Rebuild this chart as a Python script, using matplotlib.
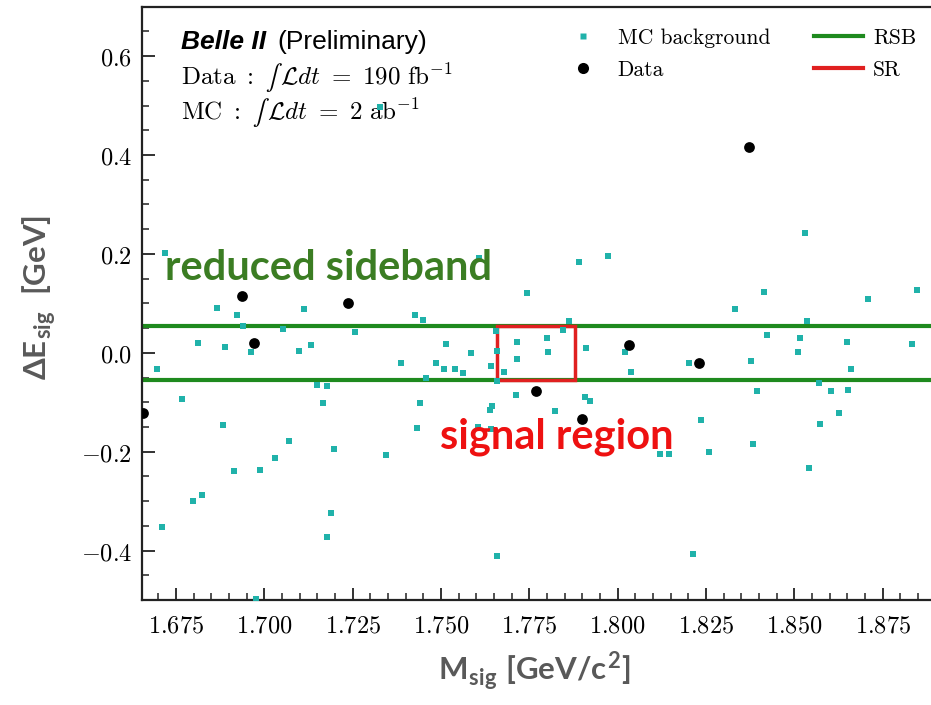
import numpy as np
import matplotlib
matplotlib.use("Agg")
import matplotlib.pyplot as plt
from matplotlib.patches import Rectangle
from matplotlib.lines import Line2D

plt.rcParams['mathtext.fontset'] = 'cm'
plt.rcParams['axes.formatter.use_mathtext'] = True

# MC background events (M_sig [GeV/c^2], dE_sig [GeV])
mc_m = [1.7327, 1.6719, 1.7609, 1.6865, 1.6924, 1.7112, 1.7426, 1.7450, 1.7744, 1.7891,
        1.7972, 1.8530, 1.8414, 1.8331, 1.8708, 1.8848, 1.7862, 1.8535, 1.6939, 1.7054,
        1.7257, 1.7655, 1.6813, 1.6889, 1.6962, 1.7098, 1.7132, 1.7514, 1.7584, 1.7659,
        1.7714, 1.7715, 1.6697, 1.7387, 1.7485, 1.7509, 1.7540, 1.7563, 1.7643, 1.7679,
        1.7457, 1.7658, 1.7148, 1.7177, 1.6766, 1.7167, 1.7441, 1.7712, 1.7639, 1.7646,
        1.6884, 1.7431, 1.7606, 1.7643, 1.7071, 1.7197, 1.7344, 1.7030, 1.6915, 1.6988,
        1.6797, 1.6824, 1.7188, 1.7177, 1.6711, 1.7658, 1.6976, 1.7846, 1.7799, 1.7804,
        1.7910, 1.8021, 1.8424, 1.8516, 1.8510, 1.8648, 1.8832, 1.8038, 1.8202, 1.8378,
        1.8660, 1.8569, 1.8395, 1.8605, 1.8652, 1.7908, 1.7922, 1.7823, 1.8236, 1.8627,
        1.8574, 1.8120, 1.8146, 1.8259, 1.8384, 1.8541, 1.8213]
mc_de = [0.4975, 0.2010, 0.1909, 0.0908, 0.0766, 0.0890, 0.0756, 0.0655, 0.1201, 0.1828,
         0.1956, 0.2427, 0.1221, 0.0878, 0.1090, 0.1268, 0.0651, 0.0651, 0.0546, 0.0479,
         0.0413, 0.0441, 0.0196, 0.0109, 0.0008, 0.0028, 0.0162, 0.0186, 0.0000, 0.0040,
         0.0222, -0.0127, -0.0324, -0.0214, -0.0202, -0.0326, -0.0330, -0.0417, -0.0275, -0.0396,
         -0.0506, -0.0566, -0.0653, -0.0679, -0.0936, -0.1023, -0.1023, -0.0855, -0.1159, -0.1078,
         -0.1468, -0.1529, -0.1496, -0.1549, -0.1792, -0.1947, -0.2069, -0.2123, -0.2398, -0.2372,
         -0.2993, -0.2872, -0.3248, -0.3721, -0.3519, -0.4111, -0.4981, 0.0459, 0.0291, 0.0020,
         0.0089, 0.0020, 0.0358, 0.0291, 0.0008, 0.0222, 0.0176, -0.0384, -0.0214, -0.0168,
         -0.0336, -0.0607, -0.0768, -0.0775, -0.0754, -0.0890, -0.0971, -0.1179, -0.1367, -0.1213,
         -0.1448, -0.2055, -0.2055, -0.2008, -0.1852, -0.2338, -0.4071]

# data events
data_m = [1.6657, 1.6936, 1.6971, 1.7238, 1.7768, 1.7899, 1.8031, 1.8231, 1.8372]
data_de = [-0.1213, 0.1147, 0.0202, 0.1011, -0.0768, -0.1335, 0.0150, -0.0202, 0.4154]

# reduced sideband and signal region
rsb_de = [-0.054, 0.054]
sr_m = [1.766, 1.788]

fig = plt.figure(figsize=(9.31, 7.05), dpi=100)
ax = fig.add_axes([0.1525, 0.1489, 0.8475, 0.8416])

cyan = '#20b2aa'
green = '#1e8a1e'
red = '#e02020'
for y in rsb_de:
    ax.axhline(y, color=green, lw=3, zorder=2)
ax.add_patch(Rectangle((sr_m[0], rsb_de[0]), sr_m[1] - sr_m[0], rsb_de[1] - rsb_de[0],
                       fill=False, edgecolor=red, lw=2.5, zorder=3))
ax.scatter(mc_m, mc_de, marker='s', s=18, color=cyan, linewidths=0, zorder=4)
ax.scatter(data_m, data_de, marker='o', s=60, color='black', linewidths=0, zorder=5)

ax.set_xlim(1.6654, 1.8887)
ax.set_ylim(-0.5, 0.7)
ax.set_xticks(np.arange(1.675, 1.876, 0.025))
ax.set_yticks([-0.4, -0.2, 0.0, 0.2, 0.4, 0.6])
ax.xaxis.set_minor_locator(matplotlib.ticker.MultipleLocator(0.005))
ax.yaxis.set_minor_locator(matplotlib.ticker.MultipleLocator(0.05))
ax.tick_params(which='both', direction='in', labelsize=17.5, color='#222222')
ax.tick_params(which='major', length=9, width=1.3)
ax.tick_params(which='minor', length=5, width=1.1)
ax.tick_params(axis='y', pad=7)
ax.tick_params(axis='x', pad=10)
ax.xaxis.set_major_formatter(matplotlib.ticker.FormatStrFormatter('$%.3f$'))
ax.yaxis.set_major_formatter(matplotlib.ticker.FuncFormatter(
    lambda v, p: '$%.1f$' % v if v >= 0 else r'$-%.1f$' % abs(v)))
for side in ['left', 'bottom', 'top']:
    ax.spines[side].set_linewidth(1.6)
    ax.spines[side].set_color('#222222')
ax.spines['right'].set_visible(False)

lab_font = dict(family=['Lato', 'DejaVu Sans'], fontweight='bold', color='#595959', fontsize=22.5)
ax.set_xlabel(r'M$_{\mathregular{sig}}$ [GeV/c$^{\mathregular{2}}$]', va='center', **lab_font)
ax.xaxis.set_label_coords(0.498, -0.121)
ax.set_ylabel('ΔE$_{\\mathregular{sig}}$  [GeV]', va='center', **lab_font)
ax.yaxis.set_label_coords(-0.13, 0.51)

ax.text(0.050, 0.928, 'Belle II', transform=ax.transAxes, fontsize=19,
        family='Liberation Sans', fontweight='bold', fontstyle='italic')
ax.text(0.171, 0.928, '(Preliminary)', transform=ax.transAxes, fontsize=19,
        family='Liberation Sans')
ax.text(0.050, 0.868, '$\\mathrm{Data\\ :}\\ ∫\\,\\mathcal{L}dt\\ =\\ 190\\ \\mathrm{fb}^{-1}$',
        transform=ax.transAxes, fontsize=18)
ax.text(0.050, 0.809, '$\\mathrm{MC\\ :}\\ ∫\\,\\mathcal{L}dt\\ =\\ 2\\ \\mathrm{ab}^{-1}$',
        transform=ax.transAxes, fontsize=18)

ax.text(0.029, 0.539, 'reduced sideband', transform=ax.transAxes, fontsize=30,
        family='Lato', fontweight='bold', color='#3b7d23', zorder=6)
ax.text(0.378, 0.256, 'signal region', transform=ax.transAxes, fontsize=30,
        family='Lato', fontweight='bold', color='#ee1111', zorder=6)

handles = [
    Line2D([], [], ls='none', marker='s', ms=4.5, color=cyan, mec='none'),
    Line2D([], [], ls='none', marker='o', ms=8, color='black', mec='none'),
    Line2D([], [], color=green, lw=3),
    Line2D([], [], color=red, lw=3),
]
ax.legend(handles, ['MC background', 'Data', 'RSB', 'SR'], ncol=2, frameon=False,
          loc='upper left', bbox_to_anchor=(0.528, 0.964), borderaxespad=0, borderpad=0,
          prop=dict(family='cmr10', size=15.5), handlelength=2.3, handletextpad=0.45,
          columnspacing=2.03, labelspacing=0.6)

fig.savefig('out.png', dpi=100)
